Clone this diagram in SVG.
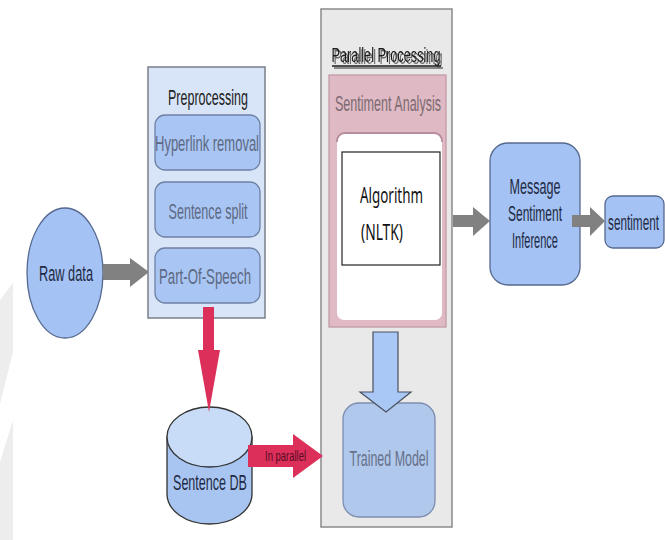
<svg xmlns="http://www.w3.org/2000/svg" width="665" height="540" viewBox="0 0 665 540">
  <style>
    text { font-family: "Liberation Sans", Arial, sans-serif; }
    .lbl { font-size: 22px; text-anchor: middle; fill: #1f2a44; }
    .sub { font-size: 22px; text-anchor: middle; fill: #5d6984; }
    .node { fill: #a4c2f4; stroke: #56698f; stroke-width: 1.3; }
    .step { fill: #a9c5f3; stroke: #6f80a5; stroke-width: 1.3; }
    .grey-arrow { fill: #818181; }
    .red-arrow { fill: #dc2f5a; }
    .algo { font-family: "Noto Sans", "Open Sans", sans-serif; font-size: 22px; fill: #111; }
  </style>
  <defs>
    <filter id="title-shadow" x="-10%" y="-30%" width="130%" height="170%">
      <feDropShadow dx="2" dy="2" stdDeviation="0.4" flood-color="#5a5a5a" flood-opacity="0.9"/>
    </filter>
  </defs>

  <!-- faint background band -->
  <g id="backdrop" fill="#ededed">
    <polygon points="0,300 13,283 13,352 0,404"/>
    <polygon points="0,462 13,420 13,540 0,540"/>
  </g>

  <!-- Raw data -->
  <g id="raw-data">
    <ellipse class="node" cx="65" cy="273" rx="38" ry="65" stroke="#3f4d6b"/>
    <text class="lbl" x="66" y="281" textLength="54" lengthAdjust="spacingAndGlyphs">Raw data</text>
  </g>

  <!-- Preprocessing stage -->
  <g id="preprocessing">
    <rect x="148" y="67" width="117" height="251" fill="#d8e5f8" stroke="#7a7f88" stroke-width="1.5"/>
    <text x="208" y="105" font-size="22" text-anchor="middle" fill="#222" textLength="80" lengthAdjust="spacingAndGlyphs">Preprocessing</text>
  </g>
  <g id="hyperlink-removal">
    <rect class="step" x="155" y="115" width="105" height="55" rx="10"/>
    <text class="sub" x="207" y="151" textLength="104" lengthAdjust="spacingAndGlyphs">Hyperlink removal</text>
  </g>
  <g id="sentence-split">
    <rect class="step" x="155" y="182" width="105" height="55" rx="10"/>
    <text class="sub" x="208" y="219" textLength="79" lengthAdjust="spacingAndGlyphs">Sentence split</text>
  </g>
  <g id="part-of-speech">
    <rect class="step" x="155" y="248" width="105" height="55" rx="10"/>
    <text class="sub" x="205" y="284" textLength="92" lengthAdjust="spacingAndGlyphs">Part-Of-Speech</text>
  </g>

  <!-- Parallel processing container -->
  <g id="parallel-processing">
    <rect x="321" y="9" width="131" height="518" fill="#e9e9e9" stroke="#8a8a8a" stroke-width="1.5"/>
    <g filter="url(#title-shadow)">
      <text x="386" y="62" font-size="20" text-anchor="middle" fill="#1a1a1a" textLength="109" lengthAdjust="spacingAndGlyphs">Parallel Processing</text>
      <line x1="332" y1="66" x2="441" y2="66" stroke="#1a1a1a" stroke-width="1.6"/>
    </g>
  </g>

  <g id="sentiment-analysis">
    <rect x="329" y="75" width="117" height="252" fill="#dfbac4" stroke="#c39aa7" stroke-width="1.3"/>
    <text x="388" y="111" font-size="22" text-anchor="middle" fill="#7d6a72" textLength="106" lengthAdjust="spacingAndGlyphs">Sentiment Analysis</text>
    <rect x="337" y="133" width="105" height="187" rx="7" fill="#ffffff"/>
    <path d="M337,142 A8,8 0 0 1 345,133 L434,133 A8,8 0 0 1 442,142" fill="none" stroke="#b78c9c" stroke-width="2"/>
  </g>

  <g id="algorithm">
    <rect x="342" y="152" width="98" height="113" fill="#ffffff" stroke="#222" stroke-width="1.2"/>
    <text class="algo" x="360" y="203" textLength="63" lengthAdjust="spacingAndGlyphs">Algorithm</text>
    <text class="algo" x="361" y="240" textLength="42" lengthAdjust="spacingAndGlyphs">(NLTK)</text>
  </g>

  <g id="trained-model">
    <rect x="343" y="403" width="92" height="114" rx="16" fill="#b0c8ec" stroke="#7d8db0" stroke-width="1.3"/>
    <text x="389" y="466" font-size="22" text-anchor="middle" fill="#66718a" textLength="79" lengthAdjust="spacingAndGlyphs">Trained Model</text>
  </g>

  <!-- Sentence DB cylinder -->
  <g id="sentence-db">
    <path d="M167,437 L167,494 A42.5,30 0 0 0 252,494 L252,437 Z" fill="#a8c5f1" stroke="#333" stroke-width="1.3"/>
    <ellipse cx="209.5" cy="437" rx="42.5" ry="30" fill="#c8dbf7" stroke="#333" stroke-width="1.3"/>
    <text class="lbl" x="210" y="490" textLength="74" lengthAdjust="spacingAndGlyphs">Sentence DB</text>
  </g>

  <g id="message-sentiment-inference">
    <rect class="node" x="490" y="143" width="90" height="142" rx="18"/>
    <text class="lbl" x="535" y="194" textLength="51" lengthAdjust="spacingAndGlyphs">Message</text>
    <text class="lbl" x="535" y="221" textLength="54" lengthAdjust="spacingAndGlyphs">Sentiment</text>
    <text class="lbl" x="535" y="248" textLength="46" lengthAdjust="spacingAndGlyphs">Inference</text>
  </g>

  <g id="sentiment">
    <rect class="node" x="605" y="196" width="59" height="52" rx="8"/>
    <text x="608" y="230" font-size="22" fill="#1f2a44" textLength="51" lengthAdjust="spacingAndGlyphs">sentiment</text>
  </g>

  <!-- Connectors -->
  <g id="connectors">
    <polygon class="grey-arrow" points="103,264 130,264 130,258 149,272 130,287 130,280 103,280"/>
    <polygon class="grey-arrow" points="453,215 473,215 473,207 490,221 473,236 473,227 453,227"/>
    <polygon class="grey-arrow" points="572,215 590,215 590,207 605,221 590,236 590,227 572,227"/>
    <polygon class="red-arrow" points="203,307 214,307 214,350 220,350 209,412 198,350 203,350"/>
    <polygon class="red-arrow" points="248,445 293,445 293,434 323,456 293,478 293,467 248,467"/>
    <text x="265" y="461" font-size="14" fill="#5a0c25" textLength="41" lengthAdjust="spacingAndGlyphs">In parallel</text>
    <polygon points="373,332 398,332 398,392 411,392 386,412 360,392 373,392" fill="#a9c8f5" stroke="#4a5060" stroke-width="1.2"/>
  </g>
</svg>
